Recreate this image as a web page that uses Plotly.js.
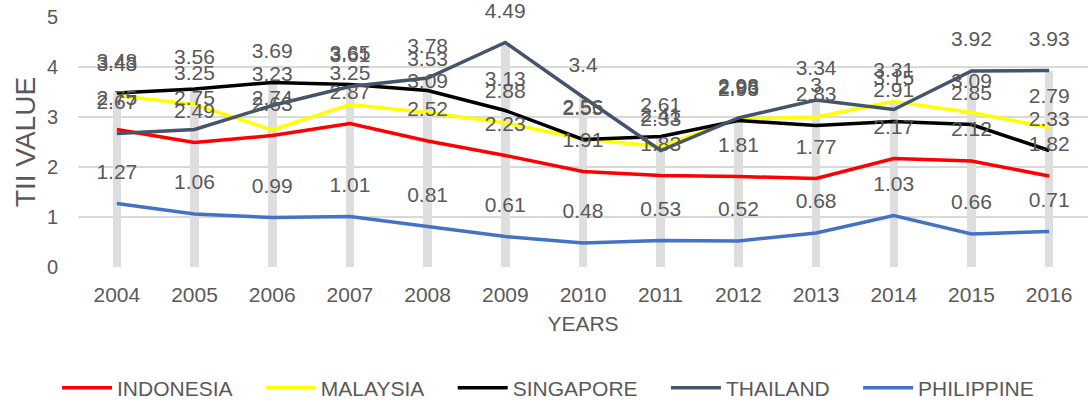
<!DOCTYPE html>
<html>
<head>
<meta charset="utf-8">
<script src="https://cdn.plot.ly/plotly-3.0.1.min.js"></script>
<style>html,body{margin:0;padding:0;background:#fff;}#chart{width:1088px;height:403px;}</style>
</head>
<body>
<div id="chart"></div>
<script>
const years = ['2004','2005','2006','2007','2008','2009','2010','2011','2012','2013','2014','2015','2016'];
const indonesia = [2.75, 2.49, 2.63, 2.87, 2.52, 2.23, 1.91, 1.83, 1.81, 1.77, 2.17, 2.12, 1.82];
const malaysia  = [3.43, 3.25, 2.74, 3.25, 3.09, 2.88, 2.56, 2.41, 2.96, 3.00, 3.31, 3.09, 2.79];
const singapore = [3.48, 3.56, 3.69, 3.65, 3.53, 3.13, 2.55, 2.61, 2.93, 2.83, 2.91, 2.85, 2.33];
const thailand  = [2.67, 2.75, 3.23, 3.61, 3.78, 4.49, 3.40, 2.33, 2.98, 3.34, 3.15, 3.92, 3.93];
const philippine= [1.27, 1.06, 0.99, 1.01, 0.81, 0.61, 0.48, 0.53, 0.52, 0.68, 1.03, 0.66, 0.71];

const seriesNames = ['INDONESIA','MALAYSIA','SINGAPORE','THAILAND','PHILIPPINE'];
const seriesData = [indonesia, malaysia, singapore, thailand, philippine];
const colors = ['#ff0000','#ffff00','#000000','#44546a','#4472c4'];

const FONT = 'Liberation Sans, Arial, sans-serif';
const GREY = '#595959';
const PAD = '\u00a0\u00a0\u00a0\u00a0';

// Drop lines: from highest value of each category down to axis
const dropHeights = years.map((_, i) => Math.max(...seriesData.map(s => s[i])));

const traces = [];
traces.push({
  type: 'bar', x: years, y: dropHeights, width: 0.11,
  marker: {color: '#dedede', line: {width: 0}},
  showlegend: false, hoverinfo: 'skip'
});
seriesNames.forEach((n, k) => {
  traces.push({
    type: 'scatter', mode: 'lines', name: n + PAD, x: years, y: seriesData[k],
    line: {color: colors[k], width: 3.5}
  });
});
seriesNames.forEach((n, k) => {
  traces.push({
    type: 'scatter', mode: 'markers+text', x: years, y: seriesData[k],
    text: seriesData[k].map(v => String(v)),
    textposition: 'top center',
    textfont: {family: FONT, size: 21, color: GREY},
    marker: {size: 30, color: 'rgba(0,0,0,0)'},
    showlegend: false, hoverinfo: 'skip', cliponaxis: false
  });
});

const layout = {
  width: 1088, height: 403,
  margin: {l: 78, r: 0, t: 17, b: 136},
  paper_bgcolor: '#ffffff', plot_bgcolor: '#ffffff',
  font: {family: FONT, color: GREY},
  showlegend: true,
  bargap: 0,
  xaxis: {
    type: 'category', range: [-0.5, 12.5], autorange: false,
    showgrid: false, zeroline: false, showline: false,
    automargin: false,
    ticks: '', tickfont: {family: FONT, size: 21, color: GREY},
    ticklabelstandoff: 13,
    title: {text: 'YEARS', font: {family: FONT, size: 21, color: GREY}, standoff: 11}
  },
  yaxis: {
    range: [0, 5], autorange: false, dtick: 1, showgrid: true, gridcolor: '#d9d9d9', gridwidth: 1.3,
    zeroline: false, showline: false, ticks: '',
    automargin: false,
    tickfont: {family: FONT, size: 20, color: GREY},
    ticklabelstandoff: 19,
    title: {text: 'TII VALUE', font: {family: FONT, size: 28, color: GREY}, standoff: 3}
  },
  legend: {
    orientation: 'h', xref: 'container', yref: 'container',
    x: 0.0524, xanchor: 'left', y: 0.037, yanchor: 'middle',
    font: {family: FONT, size: 21, color: GREY},
    itemwidth: 50, traceorder: 'normal', bgcolor: 'rgba(0,0,0,0)'
  }
};

Plotly.newPlot('chart', traces, layout, {displayModeBar: false, staticPlot: true});
</script>
</body>
</html>
